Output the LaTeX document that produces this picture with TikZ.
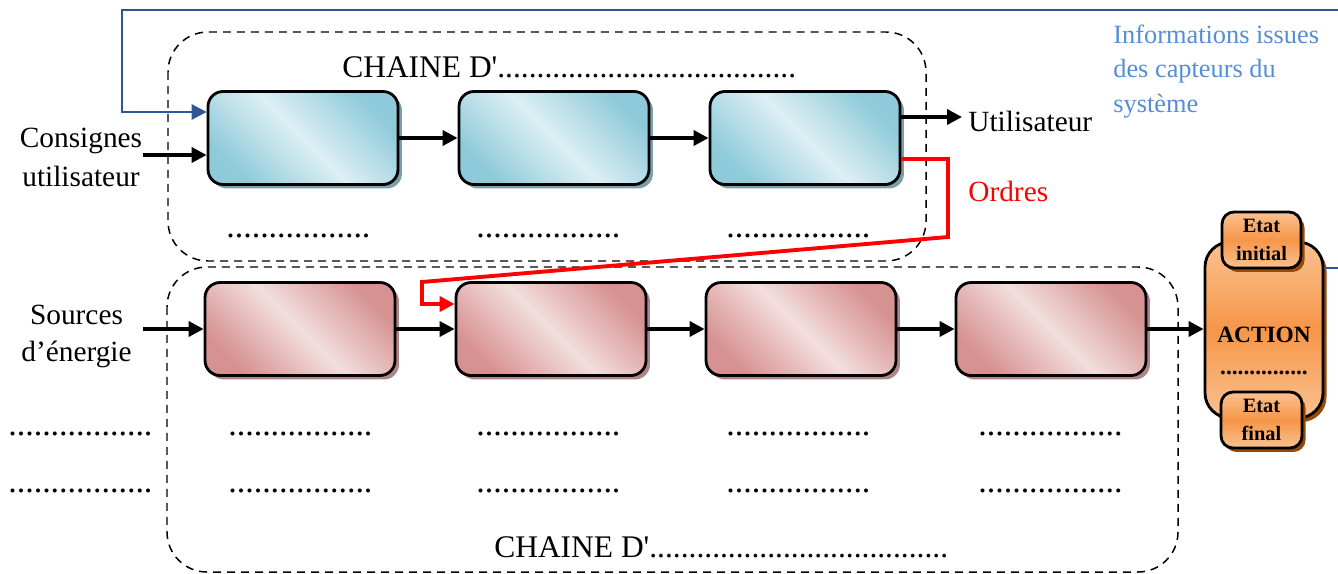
\documentclass[tikz,border=0pt]{standalone}
\usepackage{fontspec}
\setmainfont{Liberation Serif}[Ligatures=TeXOff]
\usetikzlibrary{arrows.meta,shadows,calc}
\definecolor{bluedark}{HTML}{8FCADA}
\definecolor{bluelight}{HTML}{DDEFF4}
\definecolor{blueshadow}{HTML}{7C9FAA}
\definecolor{reddark}{HTML}{D69290}
\definecolor{redlight}{HTML}{F3DEDE}
\definecolor{redshadow}{HTML}{B08585}
\definecolor{orlight}{HTML}{FAC291}
\definecolor{ordark}{HTML}{F69648}
\definecolor{orshadow}{HTML}{984807}
\definecolor{fbblue}{HTML}{2F5597}
\definecolor{infoblue}{HTML}{558ED5}
\definecolor{ordred}{HTML}{FF0000}
\begin{document}
\begin{tikzpicture}[x=0.02cm,y=-0.02cm,
  every node/.style={inner sep=0pt},
  blk/.style={rounded corners=0.3cm, draw=black, line width=1.6pt,
    minimum width=3.8cm, minimum height=1.86cm},
  bluebox/.style={blk, top color=bluedark, bottom color=bluedark, middle color=bluelight,
    shading angle=-45,
    drop shadow={shadow xshift=0.08cm, shadow yshift=-0.08cm, fill=blueshadow, opacity=1}},
  redbox/.style={blk, top color=reddark, bottom color=reddark, middle color=redlight,
    shading angle=-45,
    drop shadow={shadow xshift=0.08cm, shadow yshift=-0.08cm, fill=redshadow, opacity=1}},
  orbox/.style={draw=black, line width=1.6pt, top color=orlight, bottom color=orlight,
    middle color=ordark,
    drop shadow={shadow xshift=0.07cm, shadow yshift=-0.08cm, fill=orshadow, opacity=1}},
  chainbox/.style={draw=black, line width=0.85pt, dash pattern=on 0.16cm off 0.12cm, rounded corners=0.8cm},
  arr/.style={line width=2pt, -{Triangle[length=0.3cm,width=0.3cm]}},
  bluearr/.style={line width=1.6pt, draw=fbblue, line join=miter, -{Triangle[length=0.3cm,width=0.3cm,fill=fbblue]}},
  redarr/.style={line width=2.2pt, draw=ordred, line join=miter, -{Triangle[length=0.3cm,width=0.3cm,fill=ordred]}},
  lbl/.style={font=\fontsize{16.7}{22}\selectfont, align=center},
  chaintxt/.style={font=\fontsize{17.9}{21}\selectfont},
  ph/.style={font=\fontsize{19.3}{22}\selectfont, anchor=base west},
  etat/.style={font=\fontsize{11.6}{15.9}\selectfont\bfseries, align=center}
]
\useasboundingbox (0,0) rectangle (1338,574);
\clip (0,0) rectangle (1338,574);

% chain frames
\draw[chainbox] (168,32) rectangle (926,261);
\draw[chainbox] (167,267) rectangle (1178,572);

% blue chain
\node[bluebox] (b1) at (303,138) {};
\node[bluebox] (b2) at (554,138) {};
\node[bluebox] (b3) at (805,138) {};

% red chain
\node[redbox] (r1) at (300,329) {};
\node[redbox] (r2) at (551,329) {};
\node[redbox] (r3) at (801,329) {};
\node[redbox] (r4) at (1051,329) {};

% action block
\node[orbox, rounded corners=0.5cm, minimum width=2.36cm, minimum height=3.52cm] (action) at (1264,330) {};
\node[orbox, rounded corners=0.24cm, minimum width=1.58cm, minimum height=1.12cm, etat] (einit) at (1261.5,240) {Etat\\initial};
\node[orbox, rounded corners=0.24cm, minimum width=1.62cm, minimum height=1.12cm, etat] (efinal) at (1261.5,420) {Etat\\final};
\node[font=\fontsize{13.3}{18.1}\selectfont\bfseries, align=center, anchor=north] (acttxt) at (1264,327) {ACTION\\...............};

% titles
\node[chaintxt, anchor=base west] (t1) at (342,78) {CHAINE D'......................................};
\node[chaintxt, anchor=base west] (t2) at (494,557) {CHAINE D'......................................};

% labels
\node[lbl, anchor=north] (cons) at (81,128) {Consignes\\utilisateur};
\node[lbl, anchor=north, font=\fontsize{16.7}{21}\selectfont] (src) at (76.5,305) {Sources\\d’énergie};
\node[lbl, anchor=base west] (util) at (968,132) {Utilisateur};
\node[lbl, anchor=base west, text=ordred] (ord) at (968,202) {Ordres};
\node[font=\fontsize{15}{19.4}\selectfont, align=left, anchor=north west, text=infoblue] (info) at (1113,25) {Informations issues\\des capteurs du\\système};

% placeholders
\node[ph] (p1) at (226,237) {.................};
\node[ph] (p2) at (476,237) {.................};
\node[ph] (p3) at (726,237) {.................};
\node[ph] (q0) at (8,435) {.................};
\node[ph] (q1) at (228,435) {.................};
\node[ph] (q2) at (476,435) {.................};
\node[ph] (q3) at (726,435) {.................};
\node[ph] (q4) at (978,435) {.................};
\node[ph] (s0) at (8,492) {.................};
\node[ph] (s1) at (228,492) {.................};
\node[ph] (s2) at (476,492) {.................};
\node[ph] (s3) at (726,492) {.................};
\node[ph] (s4) at (978,492) {.................};

% coordinates
\coordinate (cin) at (143,155);
\coordinate (sin) at (143,329);
\coordinate (uout) at (962,117);
\coordinate (y112) at (0,112);
\coordinate (y159) at (0,159);
\coordinate (y268) at (0,268);
\coordinate (y304) at (0,304);

% connectors
\draw[arr] (cin) -- (cin -| b1.west);
\draw[arr] (b1) -- (b2);
\draw[arr] (b2) -- (b3);
\draw[arr] (b3.east |- uout) -- (uout);
\draw[arr] (sin) -- (sin -| r1.west);
\draw[arr] (r1) -- (r2);
\draw[arr] (r2) -- (r3);
\draw[arr] (r3) -- (r4);
\draw[arr] (r4) -- (r4 -| action.west);
\draw[redarr] (b3.east |- y159) -- (948,159) -- (948,237) -- (422,282) -- (422,304) -- (r2.west |- y304);
\draw[bluearr] (action.east |- y268) -- (1360,268) -- (1360,10) -- (122,10) -- (122,112) -- (b1.west |- y112);
\end{tikzpicture}
\end{document}
